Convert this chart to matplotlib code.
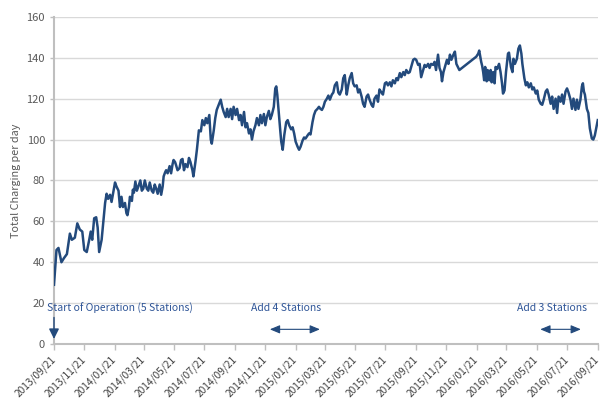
import matplotlib
matplotlib.use("Agg")
import matplotlib.pyplot as plt
import matplotlib.dates as mdates
import pandas as pd

plt.rcParams["font.family"] = ["Noto Sans CJK JP", "DejaVu Sans"]

start = pd.Timestamp("2013-09-21")
end = pd.Timestamp("2016-09-21")

# days since start of operation (gap between 817 and 851 is missing data)
day_offsets = [
    0, 5, 9, 15, 20, 26, 32, 36, 42, 47, 52, 57, 61, 66, 71, 74, 77, 81, 85, 88,
    91, 96, 99, 103, 106, 109, 113, 116, 119, 123, 126, 130, 133, 136, 139, 143,
    146, 148, 151, 153, 157, 159, 161, 164, 167, 170, 174, 177, 180, 183, 187,
    190, 193, 197, 200, 203, 206, 209, 213, 216, 219, 221, 224, 226, 229, 233,
    236, 239, 241, 244, 246, 249, 253, 256, 259, 262, 265, 269, 272, 275, 279,
    281, 285, 288, 290, 292, 296, 299, 303, 306, 309, 313, 316, 318, 322, 325,
    328, 332, 336, 339, 342, 346, 349, 352, 356, 359, 362, 366, 369, 373, 376,
    379, 383, 386, 389, 393, 396, 399, 402, 406, 409, 413, 416, 419, 423, 426,
    429, 433, 436, 439, 443, 446, 448, 450, 453, 456, 458, 461, 464, 468, 471,
    474, 478, 481, 484, 487, 491, 494, 497, 501, 504, 507, 511, 514, 517, 521,
    524, 527, 531, 534, 537, 540, 543, 546, 550, 553, 556, 560, 563, 566, 570,
    573, 576, 580, 583, 586, 590, 593, 596, 600, 603, 606, 610, 613, 616, 620,
    623, 626, 630, 633, 636, 640, 643, 646, 650, 653, 656, 660, 663, 667, 670,
    673, 677, 680, 683, 687, 690, 693, 697, 700, 704, 707, 710, 714, 717, 720,
    724, 727, 730, 734, 737, 740, 744, 747, 750, 754, 757, 760, 764, 767, 770,
    774, 777, 780, 782, 785, 788, 792, 795, 798, 801, 805, 808, 811, 815, 817,
    851, 855, 857, 861, 863, 865, 867, 869, 872, 874, 877, 880, 882, 885, 888,
    890, 893, 897, 900, 903, 905, 908, 911, 915, 917, 919, 921, 924, 926, 929,
    933, 936, 939, 942, 944, 948, 951, 954, 957, 961, 964, 967, 971, 974, 977,
    981, 984, 987, 991, 994, 997, 1001, 1004, 1007, 1011, 1014, 1017, 1021,
    1024, 1027, 1031, 1034, 1037, 1041, 1044, 1047, 1051, 1054, 1057, 1061,
    1064, 1066, 1068, 1070, 1074, 1077, 1080, 1084, 1087, 1090, 1094, 1096,
]

total_charging = [
    29, 46, 47, 40, 42, 44, 54, 51, 52, 59, 56, 55, 46, 45, 51, 55, 51, 61.5, 62, 57,
    45, 51, 58.5, 69, 73.5, 71, 73, 69.5, 73.5, 79, 77, 75, 67, 72, 67, 69,
    64, 63, 67, 72, 70, 75.5, 74, 79.5, 75, 77, 80, 75, 76, 80, 76,
    75, 79, 75, 74, 78, 76, 73.5, 78, 73, 77, 82, 84, 85, 83.5, 87,
    83.5, 88, 90, 89, 87.5, 85, 86, 90, 90.5, 85, 88, 86.5, 91, 89, 85,
    82, 89, 95, 100, 104.5, 104, 109.5, 107, 110.5, 108, 112, 100, 98, 104.5, 110.5,
    114.5, 117, 119.5, 116, 113.5, 111, 115, 111, 115, 110, 116, 112, 115, 109.5, 112,
    107, 113.5, 106, 108, 103, 105, 100, 104, 107, 110.5, 107, 112, 108, 112.5, 107,
    111, 114, 110, 112, 116, 125, 126, 122, 113, 104.5, 99, 95, 102, 108.5, 109.5,
    107, 105, 106, 103, 99, 96.5, 95, 96.5, 99.5, 101, 100.5, 102, 103, 102.5, 108.5,
    112, 114, 115, 116, 115, 114.5, 116, 118.5, 120, 121.5, 119.5, 122, 123, 126.5, 128,
    123, 122, 124.5, 130, 131.5, 122, 126.5, 130, 132.5, 127.5, 126, 126.5, 123, 124.5, 121,
    117.5, 116, 121, 122, 119.5, 117, 116, 120, 121.5, 118.5, 124.5, 123, 122, 127.5, 128,
    126.5, 128, 126, 129, 127.5, 130, 129, 132.5, 130.5, 133, 131.5, 134, 132.5, 133, 135.5,
    139, 139.5, 139, 136.5, 137, 130.5, 134, 136.5, 135.5, 137, 135, 137, 136.5, 138, 134,
    141.5, 135, 133, 128.5, 133, 135.5, 139, 137, 141.5, 139, 141.5, 143, 137, 135, 134,
    140.5, 142, 143.5, 138, 136, 133, 129, 135.5, 128.5, 134, 129, 134, 128, 133, 127.5,
    135.5, 134.5, 137, 133, 127.5, 122.5, 124, 133, 142, 142.5, 139, 135.5, 133, 139.5, 137,
    139.5, 144.5, 146, 142, 137, 130, 126.5, 128, 125.5, 127.5, 124.5, 125.5, 122.5, 124, 119.5,
    117.5, 117, 119.5, 123.5, 124.5, 122, 117.5, 121, 115, 120, 113, 121, 118.5,
    122, 117.5, 123.5, 125, 123, 119.5, 115, 120, 114.5, 119.5, 115, 119.5,
    126, 127.5, 123.5, 122, 115, 113, 105.5, 100.5, 100, 102, 107, 109.5,
]

dates = start + pd.to_timedelta(day_offsets, unit="D")
tick_dates = pd.date_range(start, end, freq=pd.DateOffset(months=2))

line_color = "#234a7c"
note_color = "#2f5597"
axis_gray = "#bfbfbf"

fig = plt.figure(figsize=(6.02, 4.01), dpi=100)
ax = fig.add_axes([0.0897, 0.142, 0.9033, 0.816])

ax.plot(dates, total_charging, color=line_color, linewidth=1.8, zorder=3)

# axes
ax.set_xlim(start, end)
ax.set_ylim(0, 160)
ax.set_yticks(range(0, 161, 20))
ax.set_xticks(tick_dates)
ax.xaxis.set_major_formatter(mdates.DateFormatter("%Y/%m/%d"))
plt.setp(ax.get_xticklabels(), rotation=45, ha="right", va="center",
         rotation_mode="anchor")
ax.tick_params(axis="x", colors=axis_gray, labelcolor="#404040", labelsize=7.3,
               length=4, width=1, pad=6)
ax.tick_params(axis="y", colors=axis_gray, labelcolor="#595959", labelsize=8,
               length=3, width=1)
ax.grid(True, axis="y", color="#d9d9d9", linewidth=1)
ax.set_axisbelow(True)
for side in ["top", "right"]:
    ax.spines[side].set_visible(False)
for side in ["left", "bottom"]:
    ax.spines[side].set_color(axis_gray)
    ax.spines[side].set_linewidth(1.5)
ax.set_ylabel("Total Charging per day", color="#595959", fontsize=7.8, labelpad=4)

# station notes
ax.text(start - pd.Timedelta(days=14), 17.6, "Start of Operation (5 Stations)",
        color=note_color, fontsize=7.5, ha="left", va="center")
ax.annotate("", xy=(start, 2.5), xytext=(start, 13),
            arrowprops=dict(arrowstyle="-|>,head_length=0.6,head_width=0.3",
                            color=line_color, lw=1, shrinkA=0, shrinkB=0))

ax.text(pd.Timestamp("2015-01-02"), 17.6, "Add 4 Stations",
        color=note_color, fontsize=7.5, ha="center", va="center")
ax.annotate("", xy=(pd.Timestamp("2014-11-30"), 7.2),
            xytext=(pd.Timestamp("2015-03-11"), 7.2),
            arrowprops=dict(arrowstyle="<|-|>,head_length=0.6,head_width=0.25",
                            color=line_color, lw=0.8, shrinkA=0, shrinkB=0))

ax.text(pd.Timestamp("2016-06-20"), 17.6, "Add 3 Stations",
        color=note_color, fontsize=7.5, ha="center", va="center")
ax.annotate("", xy=(pd.Timestamp("2016-05-28"), 7.2),
            xytext=(pd.Timestamp("2016-08-18"), 7.2),
            arrowprops=dict(arrowstyle="<|-|>,head_length=0.6,head_width=0.25",
                            color=line_color, lw=0.8, shrinkA=0, shrinkB=0))

fig.savefig("out.png", dpi=100)
